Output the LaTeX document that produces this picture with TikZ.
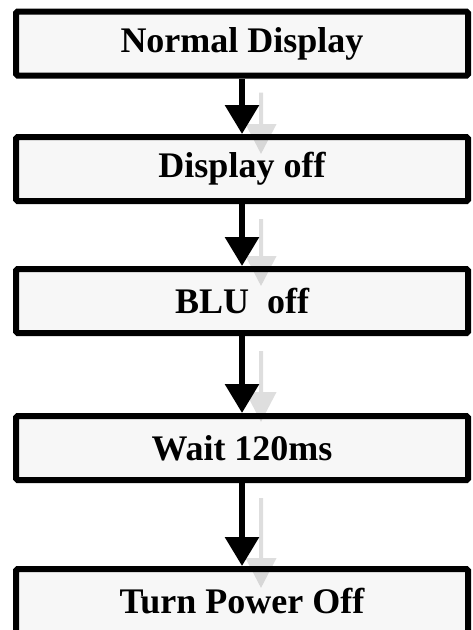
\documentclass[tikz,border=0pt]{standalone}
\usepackage{fontspec}
\setmainfont{Liberation Serif}
\usetikzlibrary{arrows.meta,calc}
\definecolor{stagefill}{HTML}{F7F7F7}
\tikzset{
  stage/.style={draw, line width=6pt, fill=stagefill, rounded corners=1.5pt,
                minimum width=452pt, minimum height=64pt, inner sep=0pt,
                font=\bfseries\fontsize{36}{40}\selectfont},
  flow/.style={line width=6pt, -{Triangle[width=33pt, length=29pt]}},
  ghost/.style={line width=4pt, -{Triangle[width=30pt, length=30pt]}},
}

\begin{document}
\begin{tikzpicture}[x=1pt, y=-1pt]
    \path[use as bounding box, clip] (0,0) rectangle (472,630);
    \node[stage] (st0) at (242, 43.5) {Normal Display};
    \node[stage] (st1) at (242, 169) {Display off};
    \node[stage] (st2) at (242, 301) {BLU~ off};
    \node[stage] (st3) at (242, 448) {Wait 120ms};
    \node[stage] (st4) at (242, 601) {Turn Power Off};
    % faint shadow arrows
    \begin{scope}[transparency group, opacity=0.13]
      \draw[ghost] ($(st0.south)+(19,14)$) -- ($(st1.north)+(19,20)$);
      \draw[ghost] ($(st1.south)+(19,15)$) -- ($(st2.north)+(19,20)$);
      \draw[ghost] ($(st2.south)+(19,15)$) -- ($(st3.north)+(19,9)$);
      \draw[ghost] ($(st3.south)+(19,15)$) -- ($(st4.north)+(19,22)$);
    \end{scope}
    \draw[flow] (st0) -- (st1);
    \draw[flow] (st1) -- (st2);
    \draw[flow] (st2) -- (st3);
    \draw[flow] (st3) -- (st4);
  \end{tikzpicture}
\end{document}
